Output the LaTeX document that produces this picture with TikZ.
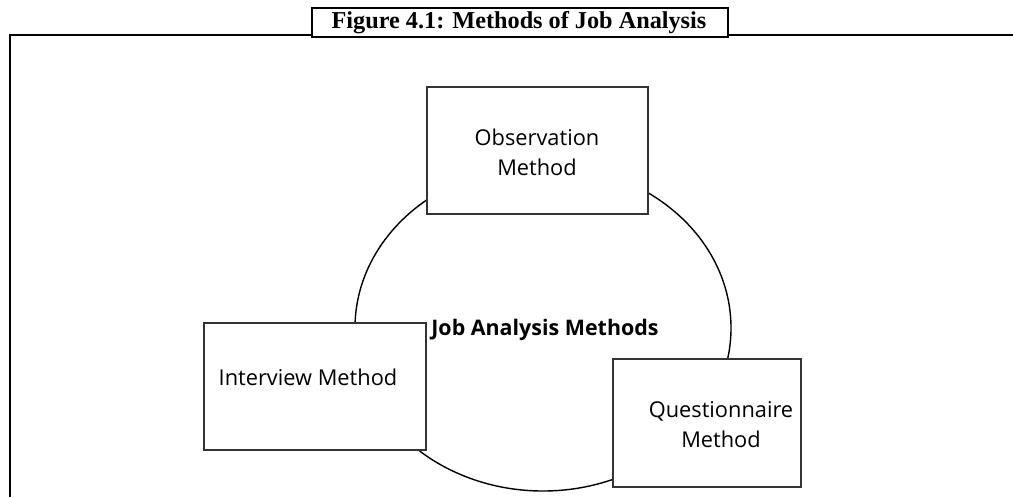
\documentclass[tikz,border=0pt]{standalone}
\usepackage{fontspec}
\setmainfont{Open Sans}
\newfontfamily\titlefont{Liberation Serif}
\usetikzlibrary{shapes}

\tikzset{
  methodbox/.style={rectangle,draw=black!80,line width=0.8pt,fill=white},
  methodtext/.style={align=center,font=\fontsize{12.4}{17}\selectfont},
  frameline/.style={line width=1.2pt}
}

\begin{document}
\begin{tikzpicture}[x=0.02cm,y=-0.02cm]
			\useasboundingbox (0,0) rectangle (1013,497);
			% outer frame with title
			\coordinate (fl) at (10,497);
			\coordinate (ftl) at (10,35);
			\coordinate (ftr) at (1013,35);
			\node[rectangle,draw,line width=1.2pt,fill=white,minimum width=416*0.02cm,minimum height=29*0.02cm] (title) at (520,22.5) {};
			\node[font=\titlefont\bfseries\fontsize{13.8}{15}\selectfont] (titletext) at (519,23) {Figure 4.1: Methods of Job Analysis};
			\path[draw,frameline] (fl) -- (ftl) -- (title.west |- ftl);
			\path[draw,frameline] (title.east |- ftr) -- (ftr);
			
			% centre ellipse
			\node[ellipse,draw,line width=0.8pt,minimum width=376*0.02cm,minimum height=326*0.02cm] (core) at (543,328) {};
			\node[font=\bfseries\fontsize{12.2}{14}\selectfont] (corelabel) at (545,330) {Job Analysis Methods};
			
			% the three methods
			\node[methodbox,minimum width=221*0.02cm,minimum height=127*0.02cm] (obs) at (537.5,150.5) {};
			\node[methodtext] (obstext) at (537,152) {Observation\\Method};
			\node[methodbox,minimum width=222*0.02cm,minimum height=127*0.02cm] (int) at (315,386.5) {};
			\node[methodtext] (inttext) at (308,377) {Interview Method};
			\node[methodbox,minimum width=188*0.02cm,minimum height=128*0.02cm] (que) at (707,423) {};
			\node[methodtext] (quetext) at (721,425) {Questionnaire\\Method};
		\end{tikzpicture}
\end{document}
